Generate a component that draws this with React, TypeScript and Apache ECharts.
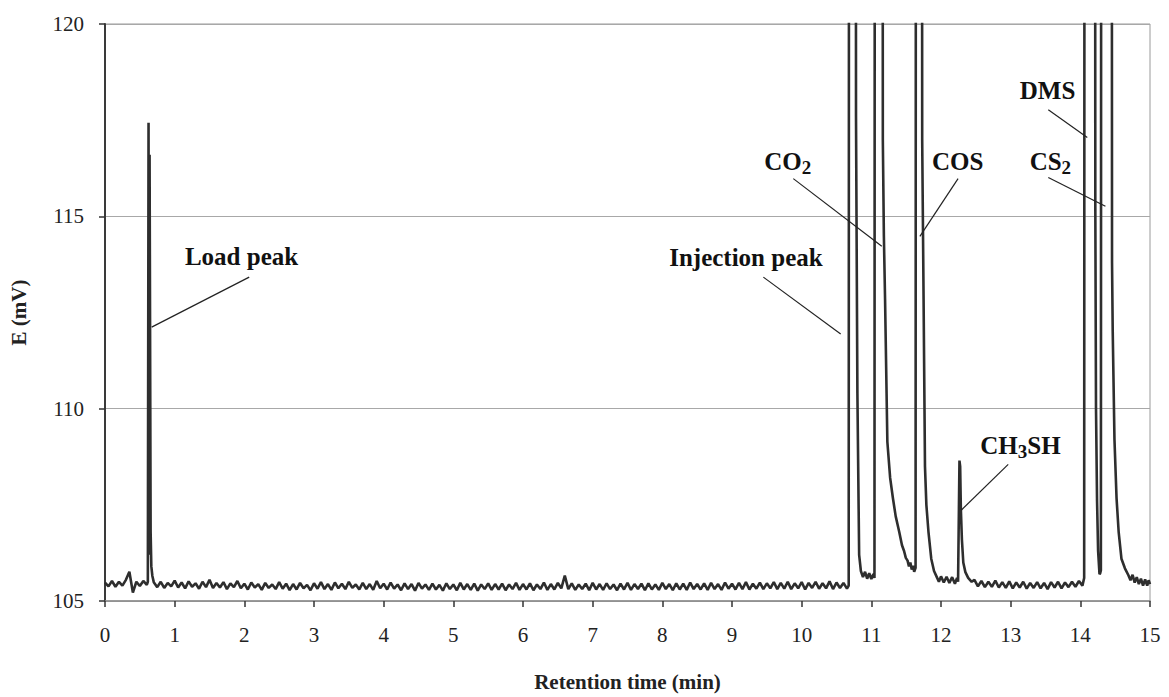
import React, { useEffect, useRef } from "react";
import * as echarts from "echarts";

// Detector sampling interval for the baseline segments (min)
const SAMPLE_STEP = 0.05;

// Baseline before the load peak, starting at 0.00 min
const earlyStart = 0.0;
const earlyBaseline = [
  105.48, 105.38, 105.52, 105.37, 105.5, 105.4, 105.55, 105.76, 105.22, 105.5,
  105.39, 105.52, 105.42,
];

// Load peak (sample loop switching)
const loadPeak: [number, number][] = [
  [0.615, 105.5],
  [0.625, 117.43],
  [0.632, 106.2],
  [0.64, 116.6],
  [0.655, 106.8],
  [0.665, 105.9],
  [0.68, 105.65],
];

// Long baseline from 0.70 min up to the injection peak
const longStart = 0.7;
const longBaseline = [
  105.49, 105.36, 105.5, 105.34, 105.47, 105.38, 105.53, 105.35, 105.48, 105.33,
  105.51, 105.37, 105.46, 105.32, 105.5, 105.36, 105.55, 105.34, 105.47, 105.35,
  105.49, 105.31, 105.46, 105.36, 105.52, 105.33, 105.45, 105.3, 105.48, 105.35,
  105.44, 105.29, 105.47, 105.34, 105.43, 105.31, 105.49, 105.32, 105.45, 105.28,
  105.44, 105.3, 105.47, 105.33, 105.42, 105.28, 105.46, 105.32, 105.49, 105.31,
  105.44, 105.29, 105.48, 105.33, 105.45, 105.31, 105.5, 105.34, 105.43, 105.3,
  105.47, 105.31, 105.44, 105.29, 105.52, 105.33, 105.45, 105.3, 105.48, 105.32,
  105.43, 105.28, 105.46, 105.31, 105.44, 105.27, 105.47, 105.32, 105.43, 105.29,
  105.45, 105.3, 105.42, 105.27, 105.46, 105.31, 105.43, 105.28, 105.47, 105.3,
  105.44, 105.29, 105.45, 105.27, 105.43, 105.31, 105.46, 105.29, 105.44, 105.3,
  105.45, 105.28, 105.43, 105.31, 105.47, 105.29, 105.44, 105.3, 105.46, 105.28,
  105.43, 105.31, 105.48, 105.29, 105.44, 105.3, 105.47, 105.33, 105.66, 105.31,
  105.46, 105.29, 105.43, 105.31, 105.45, 105.28, 105.47, 105.3, 105.44, 105.29,
  105.46, 105.31, 105.43, 105.28, 105.45, 105.3, 105.47, 105.29, 105.44, 105.31,
  105.45, 105.28, 105.46, 105.3, 105.43, 105.29, 105.47, 105.31, 105.44, 105.28,
  105.46, 105.3, 105.45, 105.29, 105.48, 105.31, 105.44, 105.3, 105.46, 105.29,
  105.47, 105.31, 105.44, 105.29, 105.48, 105.32, 105.45, 105.3, 105.47, 105.31,
  105.49, 105.3, 105.45, 105.32, 105.48, 105.31, 105.46, 105.33, 105.49, 105.31,
  105.47, 105.32, 105.5, 105.31, 105.46, 105.33, 105.49, 105.3, 105.47, 105.34,
  105.5, 105.32, 105.46, 105.33, 105.51, 105.31, 105.48, 105.34, 105.47, 105.32,
];

// Injection peak, CO2, COS and CH3SH (values above 120 are off-scale)
const firstCluster: [number, number][] = [
  [10.675, 105.4],
  [10.685, 150],
  [10.77, 150],
  [10.78, 117.6],
  [10.8, 110.4],
  [10.825, 106.2],
  [10.85, 105.78],
  [10.88, 105.62],
  [10.91, 105.76],
  [10.94, 105.58],
  [10.97, 105.72],
  [11.0, 105.57],
  [11.03, 105.7],
  [11.045, 105.6],
  [11.055, 150],
  [11.155, 150],
  [11.165, 117.0],
  [11.18, 114.5],
  [11.197, 112.85],
  [11.23, 109.14],
  [11.27, 108.2],
  [11.31, 107.67],
  [11.35, 107.2],
  [11.4, 106.8],
  [11.44, 106.45],
  [11.47, 106.3],
  [11.495, 106.12],
  [11.52, 106.05],
  [11.54, 105.9],
  [11.56, 106.0],
  [11.58, 105.82],
  [11.6, 105.92],
  [11.615, 105.76],
  [11.635, 105.86],
  [11.645, 150],
  [11.72, 150],
  [11.73, 117.0],
  [11.75, 112.85],
  [11.77, 108.5],
  [11.79, 107.5],
  [11.82, 106.8],
  [11.86, 106.1],
  [11.9, 105.78],
  [11.94, 105.62],
  [11.97, 105.5],
  [12.0, 105.64],
  [12.04, 105.48],
  [12.08, 105.63],
  [12.12, 105.47],
  [12.16, 105.62],
  [12.2, 105.45],
  [12.23, 105.6],
  [12.245, 105.5],
  [12.265, 108.65],
  [12.275, 108.5],
  [12.285, 107.4],
  [12.3, 106.6],
  [12.32, 106.0],
  [12.35, 105.75],
  [12.39, 105.6],
  [12.44, 105.5],
];

// Baseline between CH3SH and DMS
const midStart = 12.48;
const midBaseline = [
  105.55, 105.38, 105.52, 105.36, 105.5, 105.37, 105.53, 105.35, 105.49, 105.34,
  105.51, 105.33, 105.48, 105.35, 105.5, 105.32, 105.47, 105.34, 105.49, 105.33,
  105.47, 105.31, 105.49, 105.35, 105.5, 105.33, 105.48, 105.36, 105.5, 105.37,
  105.52, 105.4,
];

// DMS and CS2
const secondCluster: [number, number][] = [
  [14.055, 105.6],
  [14.065, 150],
  [14.205, 150],
  [14.215, 115.3],
  [14.225, 110.0],
  [14.24, 107.6],
  [14.255, 106.3],
  [14.275, 105.7],
  [14.285, 105.72],
  [14.295, 105.8],
  [14.305, 150],
  [14.445, 150],
  [14.455, 113.8],
  [14.465, 112.0],
  [14.49, 109.2],
  [14.52, 107.67],
  [14.55, 106.8],
  [14.59, 106.1],
  [14.64, 105.85],
  [14.69, 105.67],
  [14.72, 105.54],
  [14.75, 105.68],
  [14.78, 105.48],
  [14.81, 105.62],
  [14.84, 105.44],
  [14.87, 105.58],
  [14.9, 105.4],
  [14.93, 105.56],
  [14.96, 105.4],
  [14.98, 105.54],
  [15.0, 105.44],
];

// Axis ranges and tick spacing
const xTicks = { min: 0, max: 15, interval: 1 };
const yTicks = { min: 105, max: 120, interval: 5 };

// Peak names (rich text for subscripts) and anchor points in data units
const peakLabels: { text: string; at: [number, number] }[] = [
  { text: "{b|Load peak}", at: [1.96, 113.96] },
  { text: "{b|Injection peak}", at: [9.2, 113.94] },
  { text: "{b|CO}{s|2}", at: [9.8, 116.42] },
  { text: "{b|COS}", at: [12.24, 116.42] },
  { text: "{b|DMS}", at: [13.53, 118.26] },
  { text: "{b|CS}{s|2}", at: [13.57, 116.42] },
  { text: "{b|CH}{s|3}{b|SH}", at: [13.14, 109.04] },
];

// Leader lines from each name to its peak, in data units
const leaderLines: [[number, number], [number, number]][] = [
  [[2.07, 113.42], [0.67, 112.12]],
  [[9.45, 113.42], [10.56, 111.94]],
  [[9.88, 115.98], [11.15, 114.22]],
  [[12.245, 115.98], [11.697, 114.48]],
  [[13.54, 117.77], [14.1, 117.05]],
  [[13.54, 116.01], [14.36, 115.26]],
  [[12.965, 108.55], [12.29, 107.36]],
];

const SERIF = "'Liberation Serif', 'Times New Roman', serif";

function buildSeries(): [number, number][] {
  const pts: [number, number][] = [];
  earlyBaseline.forEach((v, i) => pts.push([+(earlyStart + i * SAMPLE_STEP).toFixed(3), v]));
  loadPeak.forEach((p) => pts.push(p));
  longBaseline.forEach((v, i) => pts.push([+(longStart + i * SAMPLE_STEP).toFixed(3), v]));
  firstCluster.forEach((p) => pts.push(p));
  midBaseline.forEach((v, i) => pts.push([+(midStart + i * SAMPLE_STEP).toFixed(3), v]));
  secondCluster.forEach((p) => pts.push(p));
  return pts;
}

export default function App() {
  const ref = useRef<HTMLDivElement>(null);

  useEffect(() => {
    if (!ref.current) return;
    const chart = echarts.init(ref.current, undefined, { renderer: "svg" });

    chart.setOption({
      animation: false,
      backgroundColor: "#ffffff",
      grid: {
        left: 103,
        right: 19,
        top: 24,
        bottom: 94,
        show: true,
        borderColor: "#9a9a9a",
        borderWidth: 1,
        backgroundColor: "transparent",
      },
      xAxis: {
        type: "value",
        min: xTicks.min,
        max: xTicks.max,
        interval: xTicks.interval,
        name: "Retention time (min)",
        nameLocation: "middle",
        nameGap: 70,
        nameTextStyle: { fontFamily: SERIF, fontSize: 21, fontWeight: "bold", color: "#222" },
        axisLine: { show: true, onZero: false, lineStyle: { color: "#8a8a8a", width: 1.5 } },
        axisTick: { show: true, inside: false, length: 6, lineStyle: { color: "#333", width: 1.5 } },
        axisLabel: { fontFamily: SERIF, fontSize: 21, color: "#222", margin: 23 },
        splitLine: { show: false },
      },
      yAxis: {
        type: "value",
        min: yTicks.min,
        max: yTicks.max,
        interval: yTicks.interval,
        name: "E (mV)",
        nameLocation: "middle",
        nameGap: 76,
        nameRotate: 90,
        nameTextStyle: { fontFamily: SERIF, fontSize: 21, fontWeight: "bold", color: "#222" },
        axisLine: { show: true, onZero: false, lineStyle: { color: "#3a3a3a", width: 2 } },
        axisTick: { show: true, inside: false, length: 6, lineStyle: { color: "#333", width: 1.5 } },
        axisLabel: { fontFamily: SERIF, fontSize: 21, color: "#222", margin: 21 },
        splitLine: { show: true, lineStyle: { color: "#a8a8a8", width: 1 } },
      },
      series: [
        {
          type: "line",
          data: buildSeries(),
          showSymbol: false,
          symbol: "none",
          clip: true,
          lineStyle: { color: "#2e2e2e", width: 2.6 },
          z: 3,
        },
      ],
    });

    const toPx = (p: [number, number]) =>
      chart.convertToPixel({ gridIndex: 0 }, p) as number[];

    const richStyles = {
      b: { fontFamily: SERIF, fontSize: 25, fontWeight: "bold", fill: "#111" },
      s: { fontFamily: SERIF, fontSize: 19, fontWeight: "bold", fill: "#111", padding: [12, 0, 0, 0] },
    };

    const graphic: any[] = [];
    leaderLines.forEach(([a, b]) => {
      const pa = toPx(a);
      const pb = toPx(b);
      graphic.push({
        type: "line",
        silent: true,
        z: 10,
        shape: { x1: pa[0], y1: pa[1], x2: pb[0], y2: pb[1] },
        style: { stroke: "#222", lineWidth: 1.2 },
      });
    });
    peakLabels.forEach((l) => {
      const p = toPx(l.at);
      graphic.push({
        type: "text",
        silent: true,
        z: 10,
        x: p[0],
        y: p[1],
        style: {
          text: l.text,
          rich: richStyles,
          align: "center",
          verticalAlign: "middle",
          fill: "#111",
        },
      });
    });
    chart.setOption({ graphic });

    return () => chart.dispose();
  }, []);

  return (
    <div
      ref={ref}
      style={{ position: "absolute", left: 0, top: 0, width: 1169, height: 697 }}
    />
  );
}
